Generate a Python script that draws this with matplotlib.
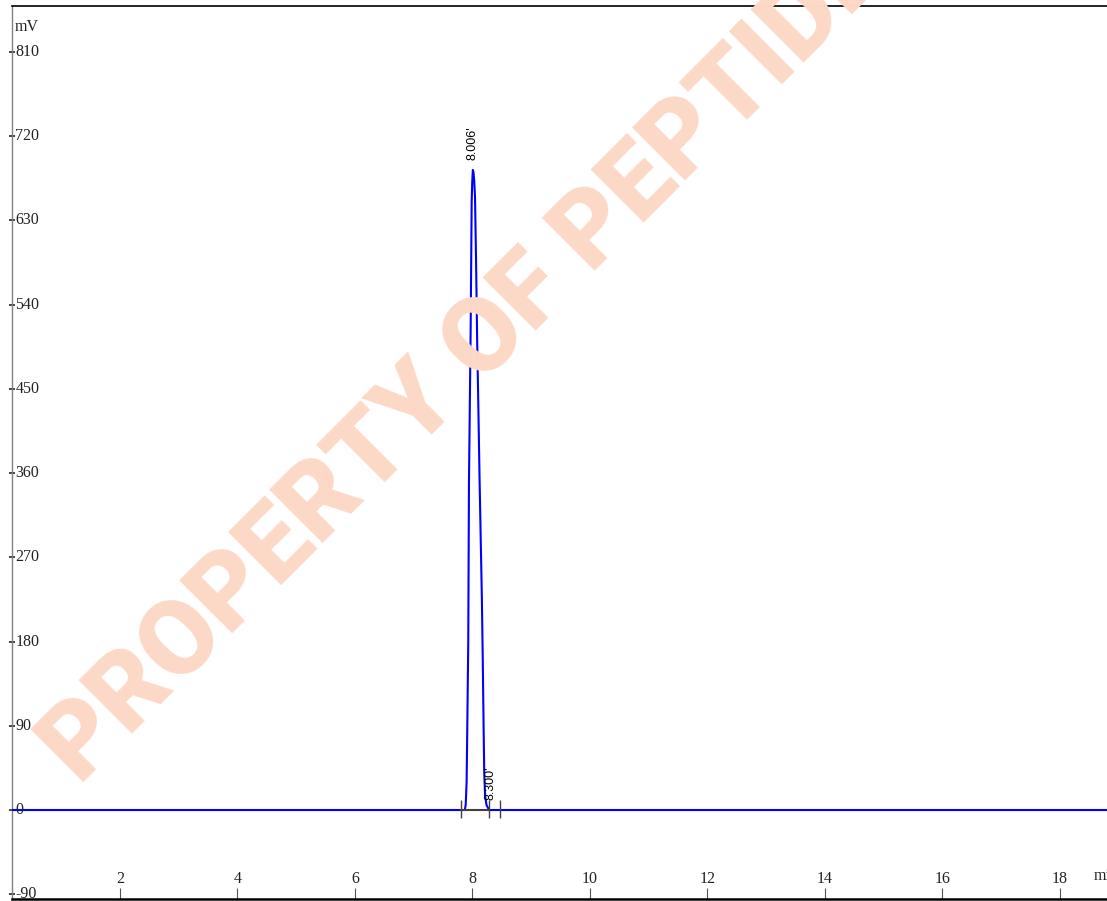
import matplotlib
matplotlib.use("Agg")
import matplotlib.pyplot as plt
from matplotlib import transforms

# Chromatogram trace: retention time (min) and signal (mV).
trace_min = [0.10, 7.80, 7.870, 7.885, 7.900, 7.910, 7.928, 7.940, 7.955, 7.969,
             7.986, 7.996, 8.006, 8.016, 8.030, 8.043, 8.060, 8.080, 8.100,
             8.120, 8.140, 8.160, 8.175, 8.190, 8.200, 8.215, 8.240, 8.285,
             8.40, 18.90]
trace_mv = [0, 0, 0, 6, 30, 80, 180, 350, 435, 516,
            650, 672, 684, 682, 672, 655, 590, 500, 430,
            355, 290, 225, 160, 85, 40, 15, 5, 0,
            0, 0]

# Integration events (peak start / end markers) and the drawn baseline.
event_min = [7.804, 8.286, 8.468]
baseline_min = [7.804, 8.286]

# Peak labels.
peak_labels = ["8.006'", "8.300'"]
peak_label_min = [8.006, 8.300]
peak_label_mv = [695, 11]

y_ticks = [-90, 0, 90, 180, 270, 360, 450, 540, 630, 720, 810]
x_ticks = [2, 4, 6, 8, 10, 12, 14, 16, 18]

W, H = 1107, 901
fig = plt.figure(figsize=(W / 100, H / 100), dpi=100)
ax = fig.add_axes([12 / W, 2 / H, (W - 12) / W, 893 / H])
ax.patch.set_alpha(0)
ax.set_xlim(0.162, 18.80)
ax.set_ylim(-95.1, 859.2)

# watermark, behind everything
fig.text(80 / W, (H - 786) / H, "PROPERTY OF PEPTIDES WORLD",
         family="Roboto", weight="black",
         fontsize=76, color="#fcd9c7", rotation=45, rotation_mode="anchor",
         ha="left", va="baseline", zorder=0)

ax.plot(trace_min, trace_mv, color="#0000ff", lw=1.5, zorder=3)
ax.plot(baseline_min, [0, 0], color="#404040", lw=1.5, zorder=4)
ax.vlines(event_min, -8.5, 10.5, color="#404040", lw=1.0, zorder=4)

for text, t, mv in zip(peak_labels, peak_label_min, peak_label_mv):
    ax.text(t, mv, text, rotation=90, ha="center", va="bottom",
            family="Liberation Sans", fontsize=9, color="black", zorder=5)

ax.spines["right"].set_visible(False)
ax.spines["left"].set_color("#808080")
ax.spines["left"].set_linewidth(1.0)
ax.spines["top"].set_color("black")
ax.spines["top"].set_linewidth(1.2)
ax.spines["bottom"].set_color("black")
ax.spines["bottom"].set_linewidth(1.8)

ax.set_yticks(y_ticks)
ax.set_yticklabels([])
ax.tick_params(axis="y", direction="inout", length=5, width=1.2, color="#222222")
ax.set_xticks(x_ticks)
ax.set_xticklabels([])
ax.tick_params(axis="x", direction="in", length=8, width=0.8, color="#555555")

tick_font = dict(family="Liberation Serif", fontsize=11.5, color="#222222")
ytrans = transforms.blended_transform_factory(ax.transAxes, ax.transData)
for v in y_ticks:
    ax.text(0.003, v, str(v), transform=ytrans, ha="left", va="center", **tick_font)
xtrans = transforms.blended_transform_factory(ax.transData, ax.transAxes)
for v in x_ticks:
    ax.text(v, 0.0135, str(v), transform=xtrans, ha="center", va="bottom", **tick_font)

ax.text(0.002, 0.985, "mV", transform=ax.transAxes, ha="left", va="top", **tick_font)
ax.text(0.988, 0.026, "min", transform=ax.transAxes, ha="left", va="center",
        clip_on=False, **tick_font)

fig.savefig("out.png", dpi=100)
